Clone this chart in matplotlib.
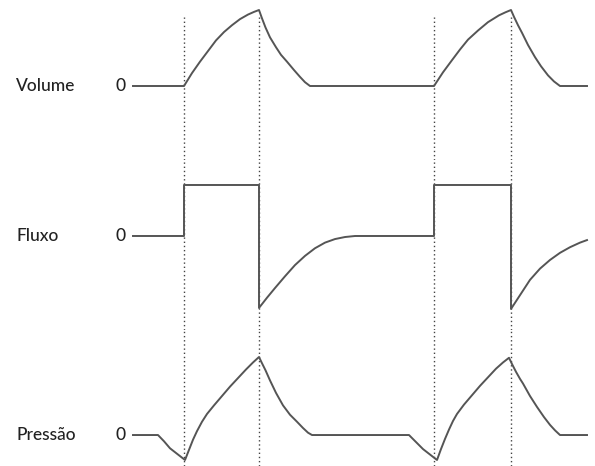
import matplotlib
matplotlib.use("Agg")
import matplotlib.pyplot as plt

# ---- data (time in arbitrary units, signals in normalised units) ----
signal_names = ["Volume", "Fluxo", "Pressão"]
zero_label = "0"

marker_times = [2.04, 5.04, 12.04, 15.12]

volume_t = [0.00, 2.04, 2.36, 2.68, 3.00, 3.32, 3.64, 3.96, 4.28, 4.60, 4.84, 5.04,
            5.16, 5.30, 5.48, 5.72, 5.92, 6.16, 6.44, 6.68, 6.88, 7.08,
            12.04, 12.40, 12.76, 13.08, 13.40, 13.80, 14.20, 14.64, 14.90, 15.12,
            15.24, 15.40, 15.56, 15.80, 16.08, 16.32, 16.60, 16.84, 17.08, 18.16]
volume_v = [0, 0, 0.17, 0.32, 0.46, 0.60, 0.71, 0.80, 0.88, 0.94, 0.975, 1.0,
            0.89, 0.77, 0.64, 0.51, 0.41, 0.32, 0.21, 0.12, 0.05, 0,
            0, 0.18, 0.34, 0.48, 0.61, 0.73, 0.84, 0.93, 0.97, 1.0,
            0.91, 0.80, 0.70, 0.54, 0.38, 0.26, 0.14, 0.06, 0, 0]

flow_t = [0, 2.04, 2.04, 5.04, 5.04, 5.36, 5.68, 6.08, 6.48, 6.88, 7.28, 7.68,
          8.08, 8.48, 8.88, 12.04, 12.04, 15.12, 15.12, 15.48, 15.88, 16.28,
          16.68, 17.08, 17.48, 17.88, 18.16]
flow_v = [0, 0, 1, 1, -1.41, -1.21, -1.02, -0.79, -0.57, -0.39, -0.24, -0.13,
          -0.06, -0.02, 0, 0, 1, 1, -1.43, -1.16, -0.86, -0.64,
          -0.47, -0.33, -0.22, -0.13, -0.08]

pressure_t = [0, 1.00, 1.24, 1.48, 1.76, 2.08,
              2.24, 2.40, 2.56, 2.76, 2.96, 3.24, 3.56, 3.88, 4.20, 4.52, 4.80, 5.04,
              5.16, 5.30, 5.48, 5.72, 6.00, 6.28, 6.56, 6.80, 7.00, 7.16,
              11.04, 11.32, 11.60, 11.88, 12.16,
              12.32, 12.48, 12.64, 12.80, 12.96, 13.24, 13.56, 13.88, 14.20, 14.52, 14.80, 15.04,
              15.16, 15.32, 15.48, 15.60, 15.88, 16.16, 16.44, 16.68, 16.88, 17.08, 18.16]
pressure_v = [0, 0, -0.08, -0.17, -0.24, -0.32,
              -0.19, -0.06, 0.05, 0.17, 0.27, 0.38, 0.50, 0.62, 0.73, 0.84, 0.93, 1.0,
              0.92, 0.83, 0.70, 0.54, 0.38, 0.26, 0.17, 0.09, 0.03, 0,
              0, -0.09, -0.18, -0.25, -0.32,
              -0.18, -0.05, 0.07, 0.18, 0.27, 0.39, 0.51, 0.63, 0.74, 0.85, 0.93, 0.99,
              0.91, 0.81, 0.72, 0.66, 0.50, 0.36, 0.23, 0.13, 0.06, 0, 0]

# ---- layout ----
W, H = 595, 466
fig = plt.figure(figsize=(W / 100, H / 100), dpi=100)
fig.patch.set_facecolor("white")

xlim = (-5.32, 18.48)
# (band top px, band bottom px, ylim top, ylim bottom)
bands = [
    (0, 160, 1.1316, -0.9737),
    (160, 330, 1.490, -1.843),
    (330, 466, 1.346, -0.397),
]
series = [(volume_t, volume_v), (flow_t, flow_v), (pressure_t, pressure_v)]

line_color = "#555555"
text_color = "#222222"
font = ["Lato", "DejaVu Sans"]
dot_top_px = 17

for i, ((top, bot, ytop, ybot), (t, v), name) in enumerate(zip(bands, series, signal_names)):
    ax = fig.add_axes([0, 1 - bot / H, 1, (bot - top) / H])
    ax.set_xlim(*xlim)
    ax.set_ylim(ybot, ytop)
    ax.axis("off")
    ax.plot(t, v, color=line_color, lw=1.4, solid_joinstyle="round", zorder=3)
    ymax = 1.0
    if i == 0:
        ymax = (bot - dot_top_px) / (bot - top)
    for mt in marker_times:
        ax.axvline(mt, ymin=0, ymax=ymax, color="#444444", lw=1.0,
                   linestyle=(0, (1, 2)), zorder=2)
    ax.text(-4.68, 0, name, ha="left", va="center", fontsize=12.5,
            color=text_color, family=font, fontweight="medium")
    ax.text(-0.28, 0, zero_label, ha="right", va="center", fontsize=12.5,
            color=text_color, family=font, fontweight="medium")

fig.savefig("out.png", dpi=100, facecolor="white")
